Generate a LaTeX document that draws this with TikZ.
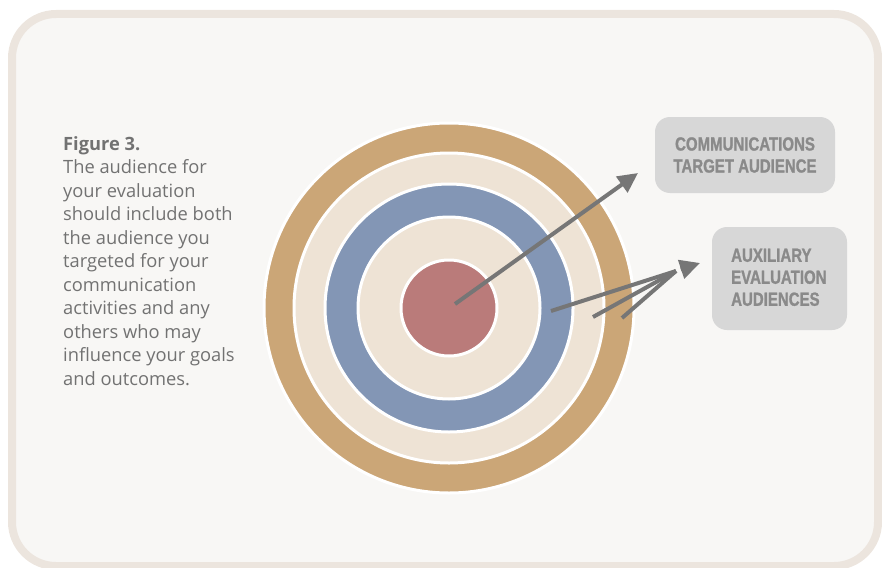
\documentclass[tikz,border=0pt]{standalone}
\usepackage{fontspec}
\setmainfont{Open Sans}
\newfontfamily\boxfont[FakeStretch=0.79,FakeBold=1.2]{Liberation Sans}
\usetikzlibrary{arrows.meta,calc}
\definecolor{framebd}{HTML}{ECE5DE}
\definecolor{framebg}{HTML}{F8F7F5}
\definecolor{tan}{HTML}{CBA677}
\definecolor{beige}{HTML}{EEE3D5}
\definecolor{ringblue}{HTML}{8396B5}
\definecolor{bullred}{HTML}{BA7B7A}
\definecolor{arrowgray}{HTML}{767676}
\definecolor{boxfill}{HTML}{D7D7D7}
\definecolor{boxtext}{HTML}{8A8A8A}
\definecolor{bodytext}{HTML}{727272}
\tikzset{
  ring/.style={draw=white, line width=3pt},
  pointer/.style={draw=arrowgray, line width=4pt},
  pointerhead/.style={pointer, -{Triangle[length=20pt,width=19pt]}},
  boxtextstyle/.style={text=boxtext, font=\boxfont\bfseries\fontsize{19}{22}\selectfont},
  labelbox/.style={fill=boxfill, rounded corners=15pt, inner sep=0pt, boxtextstyle},
}
\begin{document}
\begin{tikzpicture}[x=1pt,y=-1pt]
\useasboundingbox (0,0) rectangle (882,567);
% frame
\draw[framebd, line width=8pt, fill=framebg, rounded corners=44pt] (12,14) rectangle (878,566);
% target
\coordinate (c) at (449,308);
\fill[tan, ring] (c) circle[radius=185];
\fill[beige, ring] (c) circle[radius=155];
\fill[ringblue, ring] (c) circle[radius=124];
\fill[beige, ring] (c) circle[radius=91];
\fill[bullred, ring] (c) circle[radius=48];
% text
\node[anchor=north west, inner sep=0pt, align=left, text=bodytext,
  font=\fontsize{18.3}{23.5}\selectfont] (caption) at (63,136)
  {\textbf{Figure 3.}\\The audience for\\your evaluation\\should include both\\the audience you\\targeted for your\\communication\\activities and any\\others who may\\influence your goals\\and outcomes.};
% boxes
\node[labelbox, minimum width=180pt, minimum height=76pt, align=center] (target) at (745,155)
  {COMMUNICATIONS\\TARGET AUDIENCE};
\node[labelbox, minimum width=135pt, minimum height=103pt] (aux) at (779.5,278.5) {};
\node[anchor=north west, inner sep=0pt, align=left, boxtextstyle] (auxtext) at (731,248.5)
  {AUXILIARY\\EVALUATION\\AUDIENCES};
% arrows
\coordinate (s0) at (455,304);
\coordinate (t0) at (638,173);
\draw[pointerhead] (s0) -- (t0);
\coordinate (s1) at (551,311);
\coordinate (s2) at (593,317);
\coordinate (s3) at (622,318);
\coordinate (j) at (676,271);
\coordinate (t1) at (700,263);
\draw[pointer] (s1) -- (j);
\draw[pointer] (s2) -- (j);
\draw[pointer] (s3) -- (j);
\draw[pointerhead] ($(j)!0.2!(t1)$) -- (t1);
\end{tikzpicture}
\end{document}
